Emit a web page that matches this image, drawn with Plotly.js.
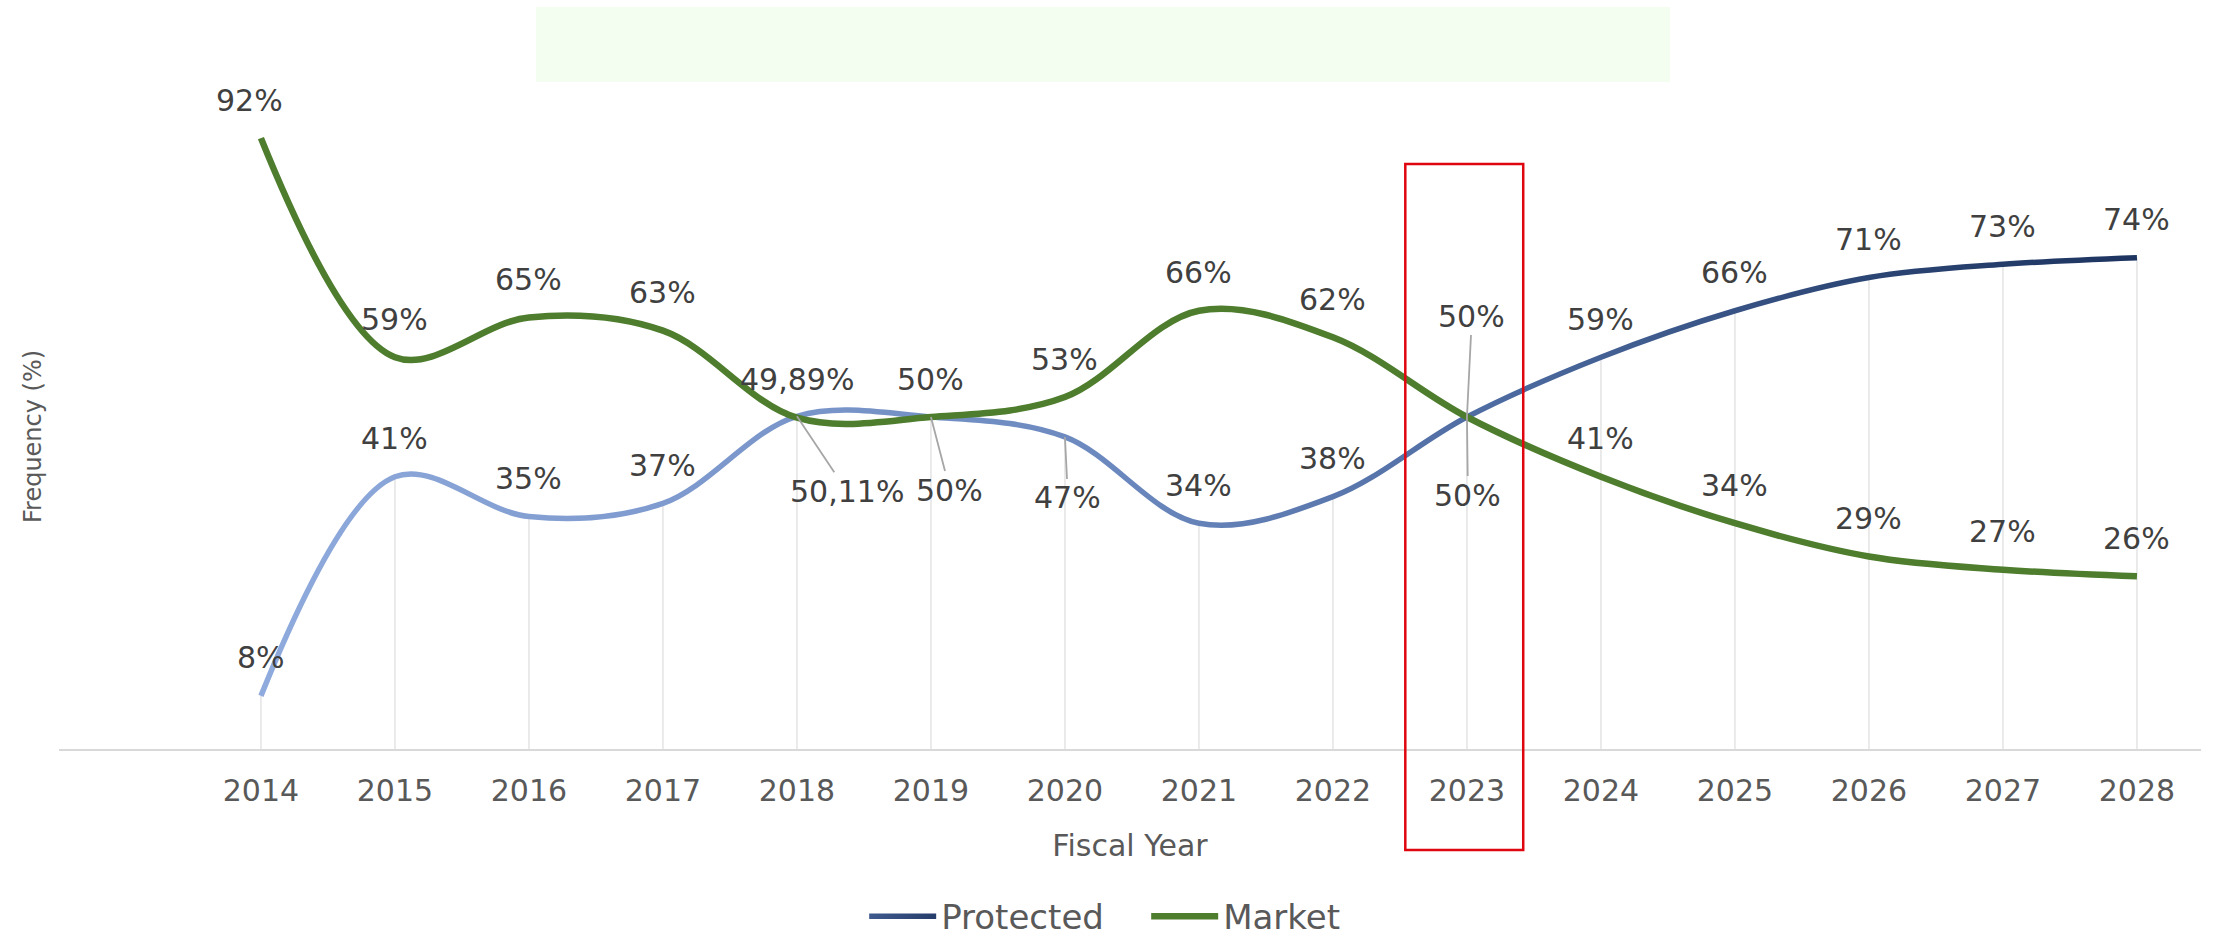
<!DOCTYPE html>
<html>
<head>
<meta charset="utf-8">
<script src="https://cdn.plot.ly/plotly-3.0.1.min.js"></script>
<style>
  html, body { margin: 0; padding: 0; background: #fff; }
  #chart { width: 2213px; height: 941px; }
</style>
</head>
<body>
<!-- gradients for the Protected line (plotly has no gradient strokes) -->
<svg width="0" height="0" style="position:absolute">
  <defs>
    <linearGradient id="protectedGrad" x1="0" y1="0" x2="1" y2="0">
      <stop offset="0" stop-color="#8FAADC"/>
      <stop offset="0.45" stop-color="#6C89BF"/>
      <stop offset="0.65" stop-color="#4F6DA3"/>
      <stop offset="0.85" stop-color="#2C4675"/>
      <stop offset="1" stop-color="#1E3460"/>
    </linearGradient>
    <linearGradient id="protectedLegendGrad" gradientUnits="userSpaceOnUse" x1="0" y1="0" x2="60" y2="0">
      <stop offset="0" stop-color="#3F5A8E"/>
      <stop offset="1" stop-color="#263D6B"/>
    </linearGradient>
  </defs>
</svg>
<div id="chart"></div>
<script>
// Data
const years = [2014, 2015, 2016, 2017, 2018, 2019, 2020, 2021, 2022, 2023, 2024, 2025, 2026, 2027, 2028];
const protectedValues = [8, 41, 35, 37, 50.11, 50, 47, 34, 38, 50, 59, 66, 71, 73, 74];
const marketValues = [92, 59, 65, 63, 49.89, 50, 53, 66, 62, 50, 41, 34, 29, 27, 26];
const seriesNames = ['Protected', 'Market'];
const highlightYear = 2023;

// Label placement (pixels): default offset above the point, leader lines where needed
const labelShift = 38;
const protectedLeaders = { 2018: [50, 75], 2019: [19, 73], 2020: [3, 61], 2023: [1, 78] };
const marketLeaders = { 2023: [5, -101] };
const marketNudge = { 2014: -11 };

const labelColor = '#404040';
const axisColor = '#595959';
const fontFamily = 'DejaVu Sans, sans-serif';

function fmt(v) {
    const s = Number.isInteger(v) ? String(v) : v.toFixed(2).replace('.', ',');
    return s + '%';
}

function makeLabels(values, leaders, nudge) {
    return values.map((v, i) => {
        const yr = years[i];
        const base = {
            x: yr, y: v, xref: 'x', yref: 'y',
            text: fmt(v),
            font: { family: fontFamily, size: 30, color: labelColor }
        };
        if (leaders[yr]) {
            return Object.assign(base, {
                showarrow: true, arrowhead: 0, arrowwidth: 1.8, arrowcolor: '#a6a6a6',
                standoff: 0, ax: leaders[yr][0], ay: leaders[yr][1]
            });
        }
        return Object.assign(base, {
            showarrow: false, yshift: labelShift, xshift: (nudge && nudge[yr]) || 0
        });
    });
}

// Drop lines from the Protected points to the axis
const dropTrace = {
    x: years,
    y: protectedValues,
    type: 'scatter',
    mode: 'markers',
    marker: { size: 1, opacity: 0 },
    error_y: {
        type: 'data', symmetric: false,
        array: years.map(() => 0),
        arrayminus: protectedValues,
        width: 0, thickness: 1.4, color: '#e2e2e2'
    },
    showlegend: false,
    hoverinfo: 'skip'
};

const protectedTrace = {
    x: years,
    y: protectedValues,
    type: 'scatter',
    mode: 'lines',
    name: seriesNames[0],
    line: { color: '#4F6DA3', width: 5.5, shape: 'spline', smoothing: 1 }
};

const marketTrace = {
    x: years,
    y: marketValues,
    type: 'scatter',
    mode: 'lines',
    name: seriesNames[1],
    line: { color: '#4E7D2E', width: 6.5, shape: 'spline', smoothing: 1 }
};

const layout = {
    width: 2213,
    height: 941,
    margin: { l: 59, r: 12, t: 85, b: 192 },
    paper_bgcolor: '#ffffff',
    plot_bgcolor: '#ffffff',
    font: { family: fontFamily, color: axisColor },
    showlegend: true,
    legend: {
        orientation: 'h',
        xref: 'container', yref: 'container',
        x: 0.3905, xanchor: 'left',
        y: 0.026, yanchor: 'middle',
        font: { family: fontFamily, size: 34, color: axisColor },
        itemwidth: 67,
        entrywidth: 200,
        traceorder: 'normal'
    },
    xaxis: {
        type: 'linear',
        range: [2012.493, 2028.478],
        tickvals: years,
        ticktext: years.map(String),
        tickfont: { family: fontFamily, size: 30, color: axisColor },
        ticks: '',
        ticklabelstandoff: 14,
        showgrid: false,
        zeroline: false,
        showline: true,
        linecolor: '#d9d9d9',
        linewidth: 2,
        title: { text: 'Fiscal Year', font: { family: fontFamily, size: 30, color: axisColor }, standoff: 28 }
    },
    yaxis: {
        range: [0, 100],
        showticklabels: false,
        showgrid: false,
        zeroline: false,
        showline: false,
        ticks: ''
    },
    shapes: [
        // empty title box
        {
            type: 'rect', xref: 'paper', yref: 'paper',
            x0: 0.2227, x1: 0.7521, y0: 1.0045, y1: 1.1175,
            fillcolor: '#f3fdf0', line: { width: 0 }, layer: 'below'
        },
        // highlight of the current year
        {
            type: 'rect', xref: 'x', yref: 'paper',
            x0: highlightYear - 0.46, x1: highlightYear + 0.42, y0: -0.152, y1: 0.881,
            fillcolor: 'rgba(0,0,0,0)', line: { color: '#e0060f', width: 2.5 }, layer: 'above'
        }
    ],
    annotations: [
        // y axis title, placed lower than the axis middle as in the source
        {
            xref: 'paper', yref: 'paper', x: -0.0121, y: 0.47,
            xanchor: 'center', yanchor: 'middle', textangle: -90, showarrow: false,
            text: 'Frequency (%)',
            font: { family: fontFamily, size: 24, color: axisColor }
        },
        ...makeLabels(marketValues, marketLeaders, marketNudge),
        ...makeLabels(protectedValues, protectedLeaders, null)
    ]
};

Plotly.newPlot('chart', [dropTrace, protectedTrace, marketTrace], layout, { staticPlot: true, displayModeBar: false })
    .then(gd => {
        // paint the Protected line with its gradient
        const traces = gd.querySelectorAll('.scatterlayer .trace');
        const protLine = traces[1] && traces[1].querySelector('path.js-line');
        if (protLine) protLine.style.stroke = 'url(#protectedGrad)';

        const legendItems = gd.querySelectorAll('.legend .traces');
        const legPath = legendItems[0] && legendItems[0].querySelector('.legendlines path');
        if (legPath) {
            const bb = legPath.getBBox();
            const grad = document.getElementById('protectedLegendGrad');
            grad.setAttribute('x1', bb.x);
            grad.setAttribute('x2', bb.x + bb.width);
            legPath.style.stroke = 'url(#protectedLegendGrad)';
        }
    });
</script>
</body>
</html>
